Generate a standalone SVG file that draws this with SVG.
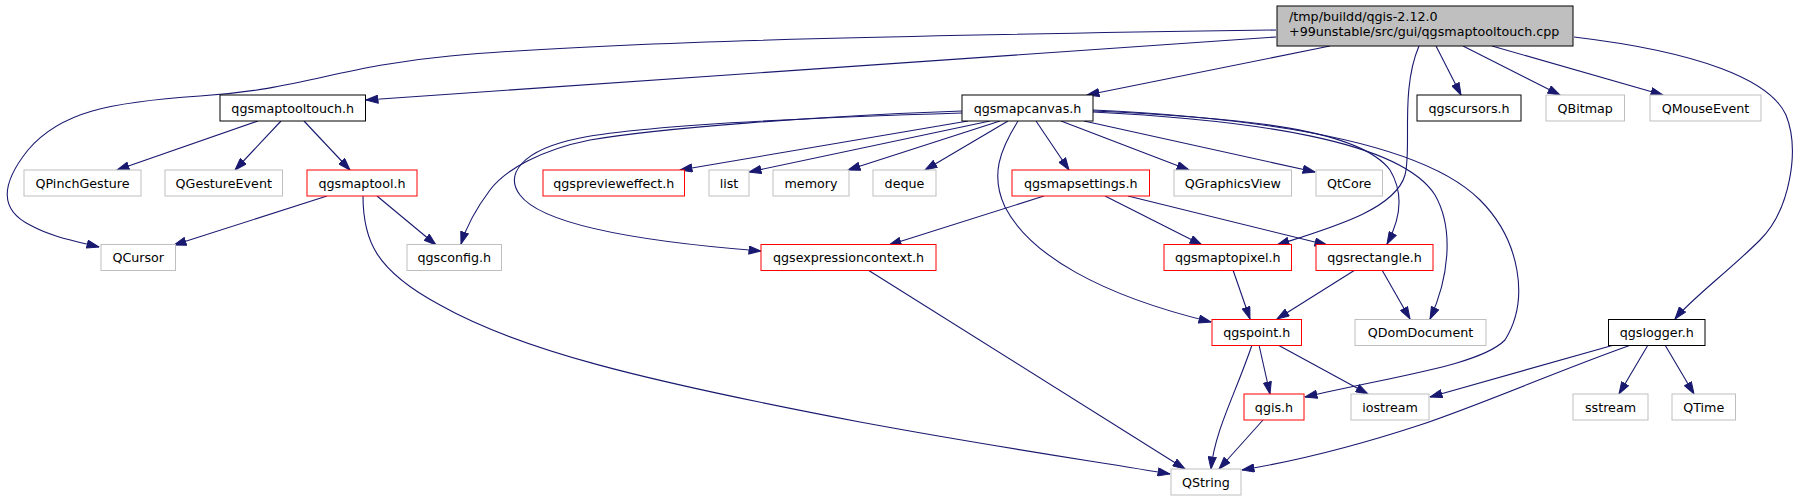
<svg xmlns="http://www.w3.org/2000/svg" width="1795" height="500" viewBox="0 0 1795 500">
<style>
.n rect{fill:#fff;stroke-width:1}
.ext rect{stroke:#bfbfbf}
.red rect{stroke:#ff0000}
.doc rect{stroke:#000}
.main rect{fill:#bfbfbf;stroke:#000}
text{font-family:"DejaVu Sans","Liberation Sans",sans-serif;font-size:12.7px;fill:#000}
.n text{text-anchor:middle}
.main text{text-anchor:start}
#edges path{fill:none;stroke:#191970;stroke-width:1.1;marker-end:url(#arr)}
</style>
<defs>
<marker id="arr" markerUnits="userSpaceOnUse" markerWidth="13" markerHeight="9" viewBox="0 0 13 9" refX="12.5" refY="4.5" orient="auto">
<path d="M0.5,0.5 L12.5,4.5 L0.5,8.5 z" fill="#191970" stroke="#191970" stroke-width="1"/>
</marker>
</defs>
<rect width="1795" height="500" fill="#fff"/>
<g id="edges">
<path d="M1276,37 L366,100"/>
<path d="M1276,30 C1000,34 620,40 450,56 C340,66 300,90 200,96 C110,102 60,112 28,150 C0,185 0,210 30,225 C50,236 70,240 99,247"/>
<path d="M1330,46 L1087,95"/>
<path d="M1436,46 L1461,95"/>
<path d="M1463,46 L1560,95"/>
<path d="M1492,46 L1663,95"/>
<path d="M1574,37 C1700,52 1770,80 1786,115 C1800,150 1790,210 1760,240 C1730,270 1690,300 1675,319"/>
<path d="M1419,46 C1400,90 1412,150 1405,175 C1395,210 1330,228 1277,245"/>
<path d="M258,121 L117,170"/>
<path d="M281,121 L235,170"/>
<path d="M304,121 L350,170"/>
<path d="M327,196 L174,245"/>
<path d="M377,196 L436,245"/>
<path d="M363,196 C363,240 375,270 440,305 C520,350 640,380 860,422 C1000,448 1100,462 1170,474"/>
<path d="M962,111 C820,116 660,128 590,140 C540,150 505,170 490,190 C475,210 466,228 461,244"/>
<path d="M962,113 C800,118 640,126 580,138 C520,150 505,175 520,195 C540,222 620,240 761,251"/>
<path d="M968,121 L680,170"/>
<path d="M990,121 L749,172"/>
<path d="M1000,121 L848,170"/>
<path d="M1008,121 L925,170"/>
<path d="M1018,121 C1000,150 990,175 1005,207 C1030,255 1100,295 1211,322"/>
<path d="M1036,121 L1069,170"/>
<path d="M1061,121 L1189,170"/>
<path d="M1084,121 L1315,172"/>
<path d="M1093,111 C1250,118 1360,130 1390,170 C1405,195 1400,220 1387,244"/>
<path d="M1093,112 C1250,120 1400,140 1435,195 C1455,230 1448,280 1430,319"/>
<path d="M1093,110 C1300,120 1430,150 1480,200 C1520,240 1530,300 1505,340 C1480,365 1400,375 1305,397"/>
<path d="M1044,196 L889,245"/>
<path d="M1105,196 L1202,245"/>
<path d="M1128,196 L1327,245"/>
<path d="M868,270 L1185,469"/>
<path d="M1233,270 L1250,319"/>
<path d="M1355,270 L1277,319"/>
<path d="M1382,270 L1410,319"/>
<path d="M1259,345 L1270,394"/>
<path d="M1278,345 L1368,394"/>
<path d="M1252,345 C1235,395 1215,430 1211,469"/>
<path d="M1263,420 L1219,469"/>
<path d="M1614,345 L1430,397"/>
<path d="M1631,345 C1560,370 1480,405 1420,425 C1350,448 1290,462 1242,470"/>
<path d="M1648,345 L1619,394"/>
<path d="M1665,345 L1694,394"/>
</g>
<g id="node-main" class="main"><rect x="1277" y="6" width="296" height="40"/><text x="1289" y="21">/tmp/buildd/qgis-2.12.0</text><text x="1289" y="36">+99unstable/src/gui/qgsmaptooltouch.cpp</text></g>
<g id="node-qgsmaptooltouch" class="n doc"><rect x="220" y="95" width="145.5" height="26"/><text x="292.75" y="112.5">qgsmaptooltouch.h</text></g>
<g id="node-qgsmapcanvas" class="n doc"><rect x="962" y="95" width="131" height="26"/><text x="1027.5" y="112.5">qgsmapcanvas.h</text></g>
<g id="node-qgscursors" class="n doc"><rect x="1417" y="95" width="104" height="26"/><text x="1469" y="112.5">qgscursors.h</text></g>
<g id="node-QBitmap" class="n ext"><rect x="1546" y="95" width="78.5" height="26"/><text x="1585.25" y="112.5">QBitmap</text></g>
<g id="node-QMouseEvent" class="n ext"><rect x="1650" y="95" width="111" height="26"/><text x="1705.5" y="112.5">QMouseEvent</text></g>
<g id="node-QPinchGesture" class="n ext"><rect x="24" y="170" width="117" height="26"/><text x="82.5" y="187.5">QPinchGesture</text></g>
<g id="node-QGestureEvent" class="n ext"><rect x="165" y="170" width="117.5" height="26"/><text x="223.75" y="187.5">QGestureEvent</text></g>
<g id="node-qgsmaptool" class="n red"><rect x="307" y="170" width="110" height="26"/><text x="362" y="187.5">qgsmaptool.h</text></g>
<g id="node-qgsprevieweffect" class="n red"><rect x="543" y="170" width="141.5" height="26"/><text x="613.75" y="187.5">qgsprevieweffect.h</text></g>
<g id="node-list" class="n ext"><rect x="709" y="170" width="40" height="26"/><text x="729" y="187.5">list</text></g>
<g id="node-memory" class="n ext"><rect x="773" y="170" width="76" height="26"/><text x="811" y="187.5">memory</text></g>
<g id="node-deque" class="n ext"><rect x="873" y="170" width="63" height="26"/><text x="904.5" y="187.5">deque</text></g>
<g id="node-qgsmapsettings" class="n red"><rect x="1012" y="170" width="137.5" height="26"/><text x="1080.75" y="187.5">qgsmapsettings.h</text></g>
<g id="node-QGraphicsView" class="n ext"><rect x="1174" y="170" width="117.5" height="26"/><text x="1232.75" y="187.5">QGraphicsView</text></g>
<g id="node-QtCore" class="n ext"><rect x="1316" y="170" width="66.5" height="26"/><text x="1349.25" y="187.5">QtCore</text></g>
<g id="node-QCursor" class="n ext"><rect x="101" y="244.5" width="74.5" height="26"/><text x="138.25" y="262">QCursor</text></g>
<g id="node-qgsconfig" class="n ext"><rect x="407" y="244.5" width="94.5" height="26"/><text x="454.25" y="262">qgsconfig.h</text></g>
<g id="node-qgsexpressioncontext" class="n red"><rect x="761" y="244.5" width="175" height="26"/><text x="848.5" y="262">qgsexpressioncontext.h</text></g>
<g id="node-qgsmaptopixel" class="n red"><rect x="1164" y="244.5" width="127.5" height="26"/><text x="1227.75" y="262">qgsmaptopixel.h</text></g>
<g id="node-qgsrectangle" class="n red"><rect x="1316" y="244.5" width="117" height="26"/><text x="1374.5" y="262">qgsrectangle.h</text></g>
<g id="node-qgspoint" class="n red"><rect x="1212" y="319.5" width="89.5" height="26"/><text x="1256.75" y="337">qgspoint.h</text></g>
<g id="node-QDomDocument" class="n ext"><rect x="1355" y="319.5" width="131" height="26"/><text x="1420.5" y="337">QDomDocument</text></g>
<g id="node-qgslogger" class="n doc"><rect x="1608.5" y="319.5" width="96.5" height="26"/><text x="1656.75" y="337">qgslogger.h</text></g>
<g id="node-qgis" class="n red"><rect x="1244" y="394" width="60" height="26"/><text x="1274" y="411.5">qgis.h</text></g>
<g id="node-iostream" class="n ext"><rect x="1351" y="394" width="78" height="26"/><text x="1390" y="411.5">iostream</text></g>
<g id="node-sstream" class="n ext"><rect x="1573" y="394" width="75" height="26"/><text x="1610.5" y="411.5">sstream</text></g>
<g id="node-QTime" class="n ext"><rect x="1672" y="394" width="63.5" height="26"/><text x="1703.75" y="411.5">QTime</text></g>
<g id="node-QString" class="n ext"><rect x="1171" y="469" width="70" height="26"/><text x="1206" y="486.5">QString</text></g>
</svg>
